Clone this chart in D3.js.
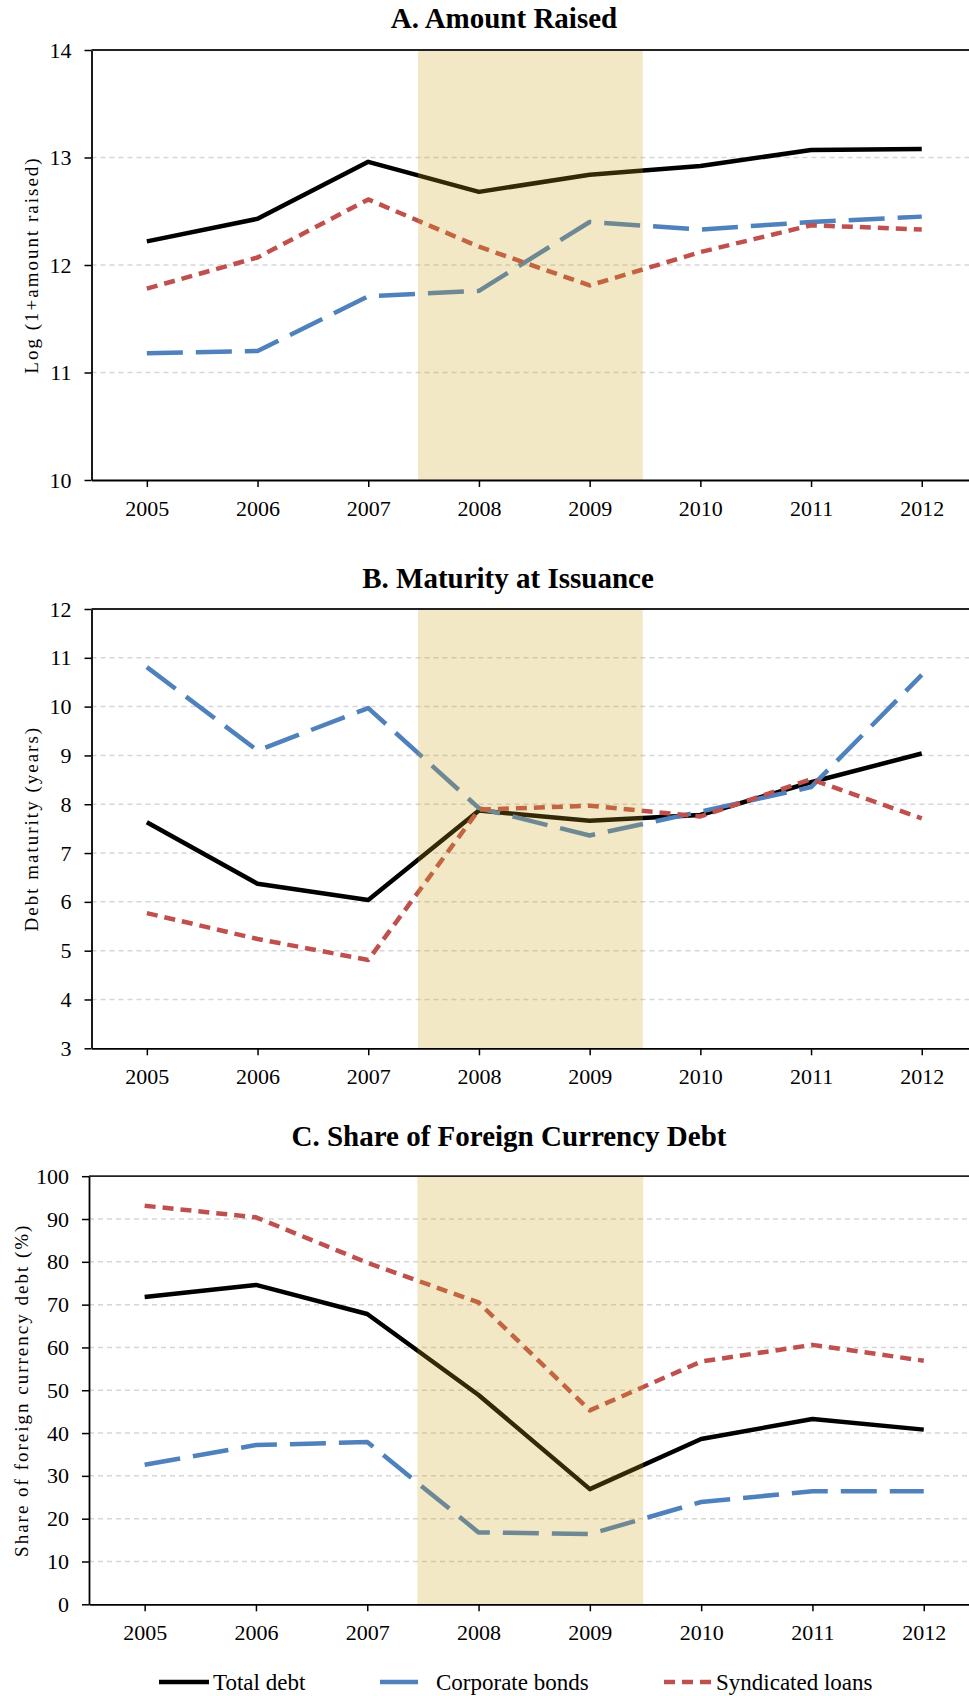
<!DOCTYPE html>
<html>
<head>
<meta charset="utf-8">
<script src="https://cdn.jsdelivr.net/npm/d3@7"></script>
<style>
  body { margin: 0; background: #fff; }
  svg { display: block; }
  text { font-family: "Liberation Serif", "Times New Roman", serif; fill: #000; }
</style>
</head>
<body>
<div id="chart"></div>
<script>
// data
var years = [2005, 2006, 2007, 2008, 2009, 2010, 2011, 2012];
var crisisBand = [2007.45, 2009.48];

var amountTotal = [12.22, 12.43, 12.96, 12.68, 12.84, 12.92, 13.07, 13.08];
var amountBonds = [11.18, 11.20, 11.71, 11.76, 12.40, 12.33, 12.40, 12.45];
var amountLoans = [11.78, 12.07, 12.61, 12.17, 11.81, 12.12, 12.37, 12.33];

var maturityTotal = [7.63, 6.37, 6.04, 7.87, 7.66, 7.78, 8.45, 9.04];
var maturityBonds = [10.81, 9.10, 9.97, 7.92, 7.36, 7.85, 8.35, 10.65];
var maturityLoans = [5.77, 5.24, 4.81, 7.89, 7.97, 7.75, 8.51, 7.71];

var fxTotal = [71.8, 74.6, 67.8, 48.9, 26.9, 38.6, 43.3, 40.8];
var fxBonds = [32.6, 37.2, 37.9, 16.8, 16.4, 23.9, 26.4, 26.4];
var fxLoans = [93.1, 90.4, 79.8, 70.5, 45.3, 56.7, 60.6, 56.9];

var amountTicks = [10, 11, 12, 13, 14];
var maturityTicks = [3, 4, 5, 6, 7, 8, 9, 10, 11, 12];
var fxTicks = [0, 10, 20, 30, 40, 50, 60, 70, 80, 90, 100];

var seriesNames = ["Total debt", "Corporate bonds", "Syndicated loans"];

var W = 969, H = 1696;

var styles = [
  { color: "#000000", dash: null },
  { color: "#4f81bd", dash: "36,13" },
  { color: "#c0504d", dash: "11,7" }
];

var panels = [
  { title: "A. Amount Raised", yLabel: "Log (1+amount raised)", series: [amountTotal, amountBonds, amountLoans],
    ticks: amountTicks, left: 91.5, top: 50, bottom: 480, step: 110.7, titleX: 504, titleY: 28, labelX: 38 },
  { title: "B. Maturity at Issuance", yLabel: "Debt maturity (years)", series: [maturityTotal, maturityBonds, maturityLoans],
    ticks: maturityTicks, left: 91.5, top: 609, bottom: 1048.3, step: 110.7, titleX: 508, titleY: 587.5, labelX: 38 },
  { title: "C. Share of Foreign Currency Debt", yLabel: "Share of foreign currency debt (%)", series: [fxTotal, fxBonds, fxLoans],
    ticks: fxTicks, left: 89, top: 1176.2, bottom: 1604.3, step: 111.3, titleX: 509, titleY: 1146, labelX: 28 }
];

var svg = d3.select("#chart").append("svg").attr("width", W).attr("height", H);
svg.append("rect").attr("width", W).attr("height", H).attr("fill", "#fff");

panels.forEach(function (p) {
  var g = svg.append("g");
  var x = d3.scaleLinear().domain([years[0] - 0.5, years[years.length - 1] + 0.5])
    .range([p.left, p.left + years.length * p.step]);
  var y = d3.scaleLinear().domain([p.ticks[0], p.ticks[p.ticks.length - 1]]).range([p.bottom, p.top]);

  // gridlines
  g.selectAll(".grid").data(p.ticks.slice(1, -1)).enter().append("line")
    .attr("x1", p.left).attr("x2", W)
    .attr("y1", function (d) { return y(d); }).attr("y2", function (d) { return y(d); })
    .attr("stroke", "#d6d6d6").attr("stroke-width", 1.5).attr("stroke-dasharray", "5,4");

  // series
  var line = d3.line()
    .x(function (d, i) { return x(years[i]); })
    .y(function (d) { return y(d); });
  p.series.forEach(function (s, k) {
    g.append("path").datum(s).attr("d", line)
      .attr("fill", "none").attr("stroke", styles[k].color).attr("stroke-width", 4.5)
      .attr("stroke-linejoin", "round")
      .attr("stroke-dasharray", styles[k].dash);
  });

  // shaded crisis years, drawn over the lines
  g.append("rect")
    .attr("x", x(crisisBand[0])).attr("width", x(crisisBand[1]) - x(crisisBand[0]))
    .attr("y", p.top).attr("height", p.bottom - p.top)
    .attr("fill", "rgb(204,164,28)").attr("fill-opacity", 0.25);

  // axes
  var axY = g.append("g").attr("transform", "translate(" + p.left + ",0)")
    .call(d3.axisLeft(y).tickValues(p.ticks).tickFormat(d3.format("d")).tickSize(7).tickSizeOuter(0).tickPadding(13));
  axY.select(".domain").attr("stroke", "#000").attr("stroke-width", 1.8);
  axY.selectAll(".tick line").attr("stroke", "#000").attr("stroke-width", 1.5);
  axY.selectAll("text").attr("font-size", 22).attr("fill", "#000");

  var axX = g.append("g").attr("transform", "translate(0," + p.bottom + ")")
    .call(d3.axisBottom(x).tickValues(years).tickFormat(d3.format("d")).tickSize(7).tickSizeOuter(0).tickPadding(13));
  axX.select(".domain").attr("stroke", "#000").attr("stroke-width", 1.8);
  axX.selectAll(".tick line").attr("stroke", "#000").attr("stroke-width", 1.5);
  axX.selectAll("text").attr("font-size", 22).attr("fill", "#000");

  g.append("line").attr("x1", p.left).attr("x2", W).attr("y1", p.top).attr("y2", p.top)
    .attr("stroke", "#222").attr("stroke-width", 1.8);

  g.append("text").attr("x", p.titleX).attr("y", p.titleY).attr("text-anchor", "middle")
    .attr("font-size", 29).attr("font-weight", "bold").text(p.title);

  g.append("text")
    .attr("transform", "translate(" + p.labelX + "," + ((p.top + p.bottom) / 2) + ") rotate(-90)")
    .attr("text-anchor", "middle").attr("font-size", 19).attr("letter-spacing", "2px")
    .text(p.yLabel);
});

// legend
var legendItems = [
  { x1: 159, x2: 209, tx: 213 },
  { x1: 380, x2: 418, tx: 436 },
  { x1: 664, x2: 711, tx: 716 }
];
var legendY = 1682;
var lg = svg.append("g");
legendItems.forEach(function (it, k) {
  lg.append("line").attr("x1", it.x1).attr("x2", it.x2).attr("y1", legendY).attr("y2", legendY)
    .attr("stroke", styles[k].color).attr("stroke-width", 4.5).attr("stroke-dasharray", k === 1 ? null : styles[k].dash);
  lg.append("text").attr("x", it.tx).attr("y", legendY + 7.5).attr("font-size", 23).text(seriesNames[k]);
});
</script>
</body>
</html>
